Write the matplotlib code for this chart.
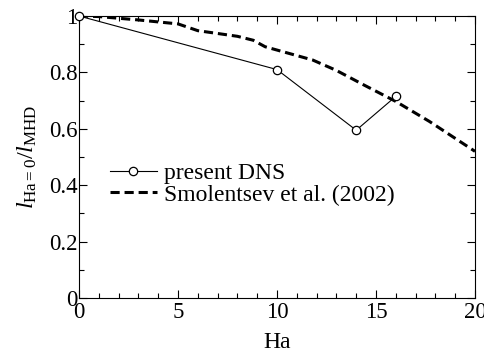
import numpy as np
import matplotlib
matplotlib.use('Agg')
from matplotlib import pyplot as plt
from matplotlib.ticker import MultipleLocator

# data
ha_dns = [0, 10, 14, 16]
ratio_dns = [1.0, 0.81, 0.595, 0.715]

ha_smol = [0, 1, 3, 5, 6, 8, 8.8, 9.4, 11.8, 13, 14.4, 16, 17.7, 20]
ratio_smol = [1.0, 0.998, 0.986, 0.972, 0.948, 0.928, 0.914, 0.891, 0.844, 0.807,
              0.755, 0.697, 0.626, 0.52]

xticks = [0, 5, 10, 15, 20]
yticks = [0, 0.2, 0.4, 0.6, 0.8, 1.0]
ylabels = ['0', '0.2', '0.4', '0.6', '0.8', '1']

plt.rcParams['font.family'] = ['Liberation Serif', 'DejaVu Serif']
plt.rcParams['mathtext.fontset'] = 'custom'
plt.rcParams['mathtext.rm'] = 'Liberation Serif'
plt.rcParams['mathtext.it'] = 'Liberation Serif:italic'

fig = plt.figure(figsize=(4.85, 3.57), dpi=100)
ax = fig.add_axes([79/485, 1-298/357, 396/485, 282/357])

ax.plot(ha_dns, ratio_dns, '-', color='k', lw=0.8, marker='o', ms=6,
        mfc='white', mec='k', mew=0.9, label='present DNS', clip_on=False, zorder=3)
ax.plot(ha_smol, ratio_smol, '--', color='k', lw=2.2, dashes=(3, 1.6),
        label='Smolentsev et al. (2002)')

ax.set_xlim(0, 20)
ax.set_ylim(0, 1)
ax.set_xticks(xticks)
ax.set_yticks(yticks)
ax.set_yticklabels(ylabels)
ax.xaxis.set_minor_locator(MultipleLocator(1))
ax.yaxis.set_minor_locator(MultipleLocator(0.1))
ax.tick_params(which='both', direction='in', top=True, right=True, labelsize=16.5, width=0.8)
ax.tick_params(axis='y', pad=1)
ax.tick_params(axis='x', pad=3)
ax.tick_params(which='major', length=6)
ax.tick_params(which='minor', length=3.5)
for s in ax.spines.values():
    s.set_linewidth(0.8)

ax.set_xlabel('Ha', fontsize=17, labelpad=6)
ax.set_ylabel(r'$l_{\mathrm{Ha=0}}/l_{\mathrm{MHD}}$', fontsize=17.5, labelpad=7)

ax.legend(loc='upper left', bbox_to_anchor=(0.078, 0.48), frameon=False, fontsize=17,
          handlelength=2.0, handletextpad=0.3, labelspacing=0.0, borderaxespad=0,
          borderpad=0)

fig.savefig('out.png', dpi=100)
